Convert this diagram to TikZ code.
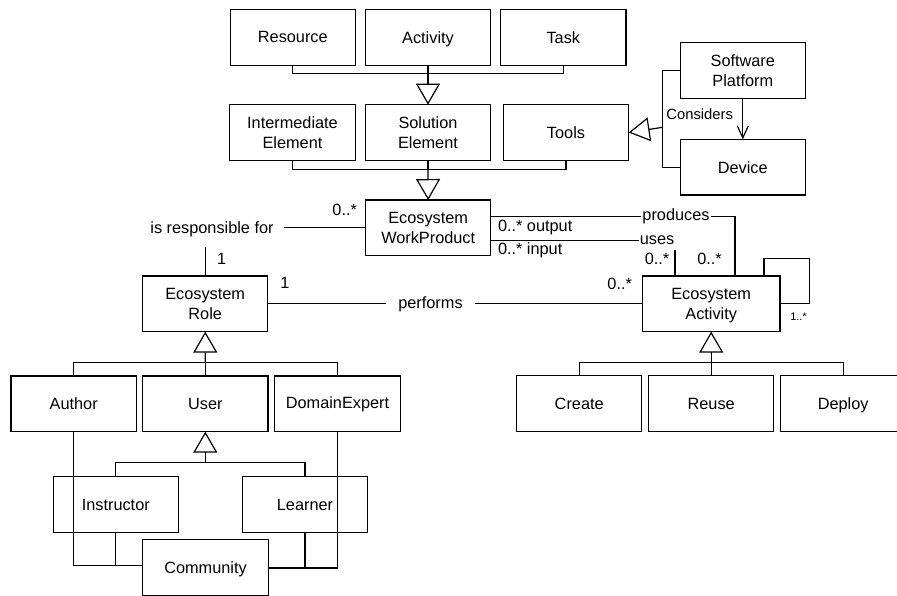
\documentclass[tikz,border=0pt]{standalone}
\usepackage{fontspec}
\setmainfont{Liberation Sans}
\usetikzlibrary{arrows.meta,calc}

% keep descenders of a last line from shifting the text upwards
\newcommand{\nodepth}[1]{\raisebox{0pt}[\height][0pt]{#1}}

\tikzset{
  base/.style={font=\fontsize{16.3}{19.6}\selectfont},
  cls/.style={base, draw, line width=1.2pt, minimum width=125.3pt, minimum height=55.7pt,
    inner sep=0pt, outer sep=0pt, align=center, fill=white},
  lbl/.style={base, inner sep=0pt, outer sep=0pt},
  tiny/.style={font=\fontsize{11}{13}\selectfont, inner sep=0pt},
  conn/.style={line width=1.2pt},
  gen/.style={conn, -{Triangle[open, length=21pt, width=24pt, line width=1.2pt]}},
  dep/.style={conn, -{Straight Barb[length=12pt, width=11pt, line width=1.2pt]}},
}

\begin{document}
\begin{tikzpicture}[x=1pt, y=-1pt]
\useasboundingbox (0,0) rectangle (897,596);
\clip (0,0) rectangle (897,596);

% classes
\node[cls] (res)   at (292.8,37.3) {Resource};
\node[cls] (act)   at (428,37.3)   {\nodepth{Activity}};
\node[cls] (task)  at (563.3,37.3) {Task};
\node[cls] (inter) at (292.5,132.5) {Intermediate\\Element};
\node[cls] (sol)   at (428,132.5)   {Solution\\Element};
\node[cls] (tools) at (566,132.5)   {Tools};
\node[cls] (sp)    at (742.8,70.7)  {Software\\Platform};
\node[cls] (dev)   at (742.8,167.2) {Device};
\node[cls] (wp)    at (428.2,227.9) {Ecosystem\\WorkProduct};
\node[cls] (role)  at (205.2,303.8) {Ecosystem\\Role};
\node[cls, minimum width=137.4pt] (eact) at (711.2,303.8) {Ecosystem\\\nodepth{Activity}};
\node[cls] (author) at (73.7,403.8)  {Author};
\node[cls] (user)   at (205.3,403.8) {User};
\node[cls] (dexp)   at (337.5,403.8) {DomainExpert};
\node[cls] (instr)  at (115.8,504.5) {Instructor};
\node[cls] (learner) at (305,504.5)  {Learner};
\node[cls] (comm)   at (205.5,567.5) {\nodepth{Community}};
\node[cls] (create) at (579.2,403.5) {Create};
\node[cls] (reuse)  at (711.2,403.5) {Reuse};
\node[cls] (deploy) at (843.2,403.5) {\nodepth{Deploy}};

% generalisation: Resource, Activity, Task -> Solution Element
\coordinate (j1) at (428,73.7);
\draw[conn] (res.south) |- (j1) -| (task.south);
\draw[conn] (act.south) -- (j1);
\draw[gen] (j1) -- (sol.north);

% generalisation: Intermediate, Solution, Tools -> WorkProduct
\coordinate (j2) at (428,169.3);
\draw[conn] (inter.south) |- (j2) -| (tools.south);
\draw[conn] (sol.south) -- (j2);
\draw[gen] (j2) -- (wp.north);

% generalisation: Software Platform, Device -> Tools
\coordinate (j3) at (662.7,127.3);
\draw[conn] (sp.west) -| (j3) |- (dev.west);
\draw[gen] (j3) -- (tools.east);

% Considers
\draw[dep] (sp.south) -- (dev.north);
\node[lbl, anchor=east, font=\fontsize{14.8}{17.8}\selectfont] (cons) at (733,114) {Considers};

% is responsible for
\node[lbl, inner xsep=10pt, inner ysep=10pt] (resp) at (212,229.3) {is responsible for};
\draw[conn] (resp.east |- wp.west) -- (wp.west);
\draw[conn] (role.north |- resp.south) -- (role.north);
\node[lbl] (m1) at (344.7,210) {0..*};
\node[lbl] (m2) at (221.7,259) {1};

% performs
\node[lbl, inner xsep=12pt] (perf) at (430.5,304.3) {performs};
\draw[conn] (role.east) -- (perf.west |- role.east);
\draw[conn] (perf.east |- eact.west) -- (eact.west);
\node[lbl] (m3) at (285,283.3) {1};
\node[lbl] (m4) at (619.7,284) {0..*};

% produces
\node[lbl, inner xsep=1.5pt] (prod) at (676,216.7) {produces};
\draw[conn] (wp.east |- prod.west) -- (prod.west);
\draw[conn] (prod.east) -| ([xshift=23.8pt]eact.north);
\node[lbl, anchor=west] (m5) at (498,227.3) {0..* output};
\node[lbl] (m6) at (709.5,259) {0..*};

% uses
\node[lbl, inner xsep=0.5pt] (uses) at (657,240.3) {uses};
\draw[conn] (wp.east |- uses.west) -- (uses.west);
\coordinate (ut) at (675,250);
\draw[conn] (ut) -- (ut |- eact.north);
\node[lbl, anchor=west] (m7) at (498,250.7) {0..* input};
\node[lbl] (m8) at (657,259) {0..*};

% self association
\coordinate (loopc) at (809.7,258.7);
\draw[conn] ([xshift=52.8pt]eact.north) |- (loopc) |- (eact.east);
\node[tiny] (m9) at (798.5,316.7) {1..*};

% generalisation: Author, User, DomainExpert -> Role
\coordinate (j4) at (205.3,362.7);
\draw[conn] (author.north) |- (j4) -| (dexp.north);
\draw[conn] (user.north) -- (j4);
\draw[gen] (j4) -- (role.south);

% generalisation: Instructor, Learner -> User
\coordinate (j5) at (205.3,462.7);
\draw[conn] (instr.north) |- (j5) -| (learner.north);
\draw[gen] (j5) -- (user.south);

% generalisation: Create, Reuse, Deploy -> Activity
\coordinate (j6) at (711.2,362.7);
\draw[conn] (create.north) |- (j6) -| (deploy.north);
\draw[conn] (reuse.north) -- (j6);
\draw[gen] (j6) -- (eact.south);

% Community links
\coordinate (cl) at ([yshift=2pt]comm.west);
\coordinate (cr) at ([yshift=-0.5pt]comm.east);
\draw[conn] (author.south) |- (cl);
\draw[conn] (instr.south) -- (instr.south |- cl);
\draw[conn] (cr) -| (dexp.south);
\draw[conn] (learner.south) -- (learner.south |- cr);
\end{tikzpicture}
\end{document}
